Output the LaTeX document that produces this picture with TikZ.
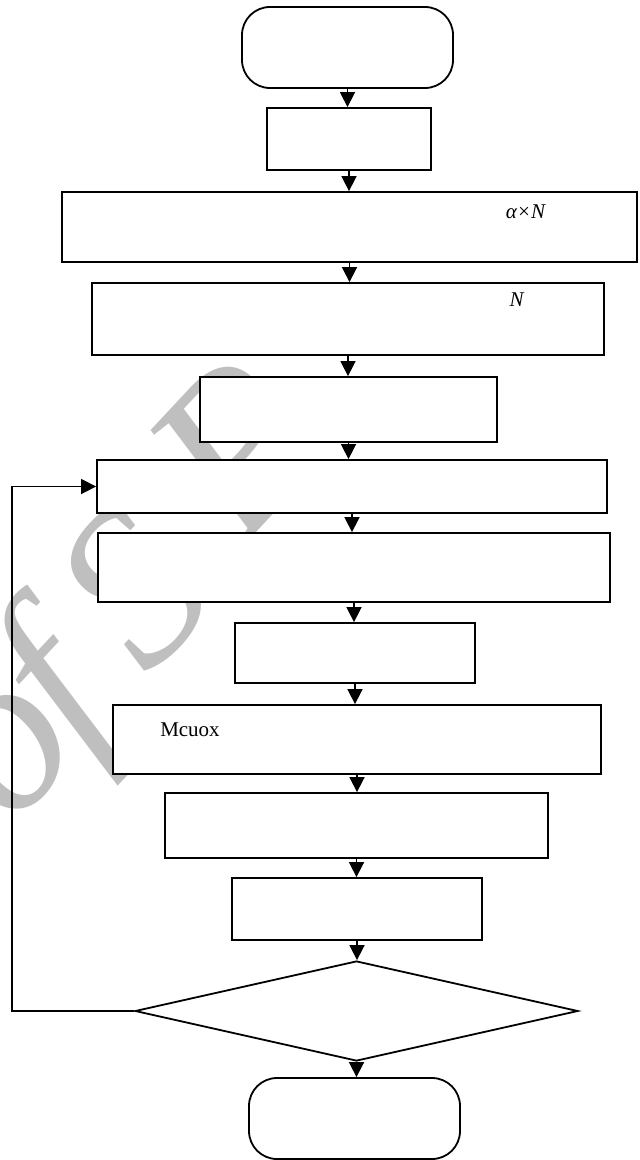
\documentclass[tikz,border=0pt]{standalone}
\usepackage{fontspec}
\setmainfont{Liberation Serif}
\usetikzlibrary{arrows.meta,shapes.geometric}
\tikzset{
  blk/.style={draw, fill=white, line width=0.9pt, inner sep=0pt},
  term/.style={blk, rounded corners=14pt},
  dec/.style={blk, diamond},
  lbl/.style={font=\fontsize{10.5}{12.6}\selectfont, inner sep=0pt},
  arr/.style={-{Triangle[length=7.5pt,width=7.5pt]}, line width=0.8pt},
  wmark/.style={text=gray!50, font=\fontsize{112}{112}\selectfont\itshape, rotate=47, inner sep=0pt}
}

\begin{document}
\begin{tikzpicture}[x=0.5pt,y=-0.5pt]
  \useasboundingbox (0,0) rectangle (639,1160);
  % watermark behind the boxes
  \node[wmark] (wo) at (12,752) {o};
  \node[wmark] (wf) at (62,695) {f};
  \node[wmark] (wS) at (133,588) {S};
  \node[wmark] (wP) at (236,447) {P};

  % the chain of steps, top to bottom
  \node[term, minimum width=105.5pt, minimum height=40.5pt] (start) at (347.5,47.5) {};
  \node[blk, minimum width=82pt,  minimum height=31pt] (init)  at (349,139) {};
  \node[blk, minimum width=287.5pt, minimum height=35pt] (sel)  at (349.5,227) {};
  \node[blk, minimum width=256pt, minimum height=36pt] (gen)   at (348,319) {};
  \node[blk, minimum width=148.5pt, minimum height=32.5pt] (eval) at (348.5,409.5) {};
  \node[blk, minimum width=255pt, minimum height=26.5pt] (loop) at (352,486.5) {};
  \node[blk, minimum width=256pt, minimum height=34.5pt] (cross) at (354,567.5) {};
  \node[blk, minimum width=120pt, minimum height=30pt] (mut)   at (355,653) {};
  \node[blk, minimum width=244pt, minimum height=34.5pt] (mc)   at (357,739.5) {};
  \node[blk, minimum width=191.5pt, minimum height=32.5pt] (upd) at (356.5,825.5) {};
  \node[blk, minimum width=125pt, minimum height=31pt] (best)  at (357,909) {};
  \node[dec, minimum width=221.5pt, minimum height=50pt] (stop) at (356.5,1011) {};
  \node[term, minimum width=105.5pt, minimum height=40.5pt] (stopp) at (354.5,1118.5) {};

  % labels left in the boxes
  \node[lbl] (selN) at (526,212) {\textit{α×N}};
  \node[lbl] (genN) at (517,300) {\textit{N}};
  \node[lbl] (mcL)  at (190,730) {Mcuox};

  % arrows
  \foreach \a/\b in {start/init,init/sel,sel/gen,gen/eval,eval/loop,loop/cross,
                     cross/mut,mut/mc,mc/upd,upd/best,best/stop,stop/stopp}
    \draw[arr] (\a.south) -- (\a.south |- \b.north);

  % back to the loop
  \coordinate (fb) at (12,1011);
  \draw[arr] (stop.west) -- (fb) |- (loop.west);
\end{tikzpicture}
\end{document}
